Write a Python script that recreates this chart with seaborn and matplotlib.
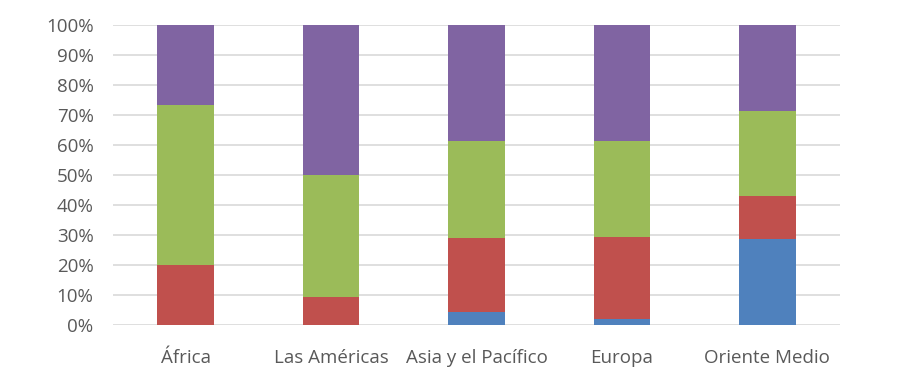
import matplotlib
matplotlib.use("Agg")
import matplotlib.pyplot as plt
import seaborn as sns
import pandas as pd
from matplotlib.ticker import FuncFormatter

categories = ["África", "Las Américas", "Asia y el Pacífico", "Europa", "Oriente Medio"]
serie_azul = [0.0, 0.0, 4.2, 2.1, 28.6]
serie_roja = [20.0, 9.5, 24.9, 27.3, 14.3]
serie_verde = [53.3, 40.5, 32.1, 31.8, 28.5]
serie_morada = [26.7, 50.0, 38.8, 38.8, 28.6]
yticks = [0, 10, 20, 30, 40, 50, 60, 70, 80, 90, 100]

series = [("azul", serie_azul, "#4F81BD"),
          ("roja", serie_roja, "#C0504D"),
          ("verde", serie_verde, "#9BBB59"),
          ("morada", serie_morada, "#8064A2")]

sns.set_theme(style="white")
plt.rcParams['font.family'] = ['Open Sans', 'DejaVu Sans']

fig = plt.figure(figsize=(9.15, 3.8), dpi=100)
ax = fig.add_axes([0.1235, 0.1447, 0.918 - 0.1235, 0.934 - 0.1447])

bottom = [0.0] * len(categories)
for name, vals, color in series:
    df = pd.DataFrame({"cat": categories, "val": vals})
    sns.barplot(data=df, x="cat", y="val", order=categories, color=color,
                bottom=bottom, width=0.39, saturation=1, ax=ax, zorder=3,
                edgecolor="none", linewidth=0)
    bottom = [b + v for b, v in zip(bottom, vals)]

ax.set_ylim(0, 100)
ax.set_xlim(-0.5, len(categories) - 0.5)
ax.set_yticks(yticks)
ax.yaxis.set_major_formatter(FuncFormatter(lambda v, p: f"{int(v)}%"))
ax.grid(axis="y", color="#d9d9d9", linewidth=1.2, zorder=0)
ax.set_axisbelow(True)
for s in ax.spines.values():
    s.set_visible(False)
ax.set_xlabel("")
ax.set_ylabel("")
ax.tick_params(axis="both", length=0, labelsize=13.5, labelcolor="#595959")
ax.tick_params(axis="x", pad=17)
ax.tick_params(axis="y", pad=14)

fig.savefig("out.png", dpi=100)
